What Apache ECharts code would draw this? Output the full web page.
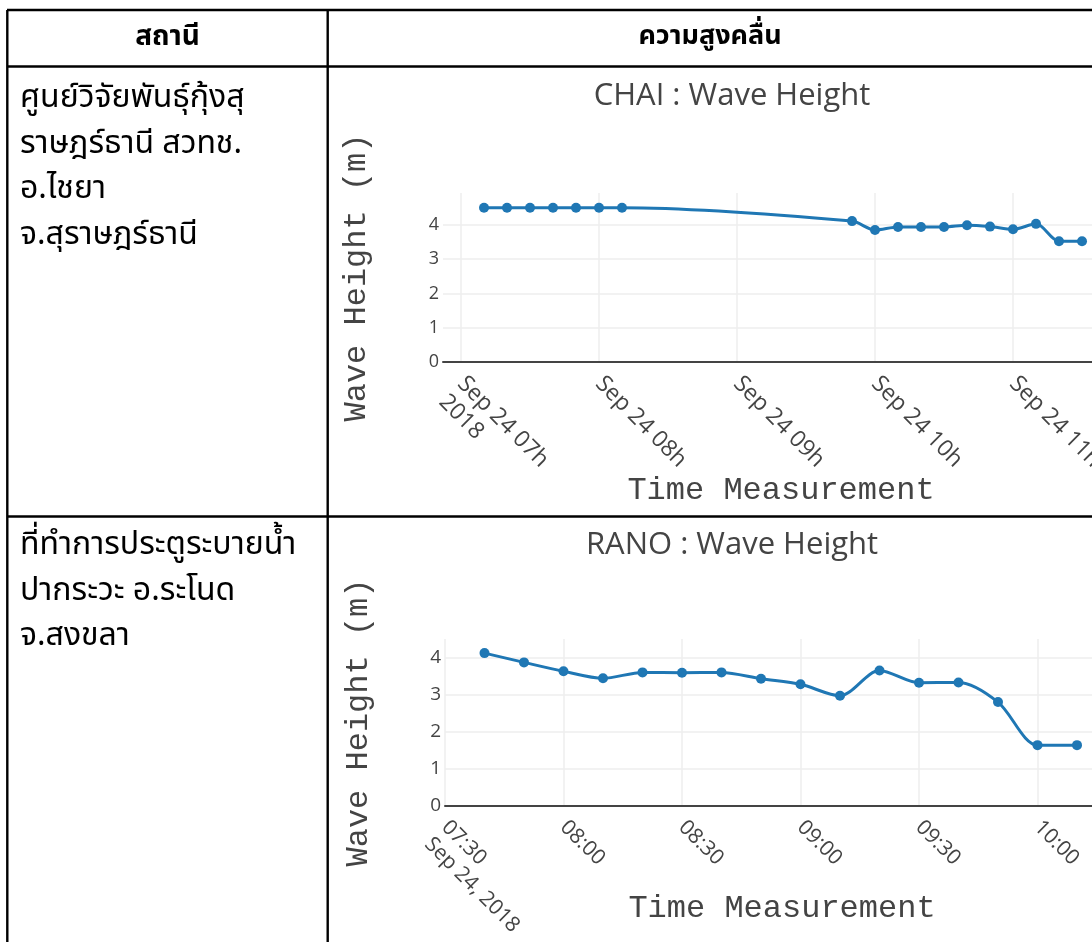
<!DOCTYPE html>
<html><head><meta charset="utf-8">
<script src="https://cdn.jsdelivr.net/npm/echarts@6/dist/echarts.min.js"></script>
<style>html,body{margin:0;padding:0;background:#fff}#c{width:1092px;height:942px}</style>
</head><body><div id="c"></div>
<script>
// ---------- data ----------
const headers = ['สถานี', 'ความสูงคลื่น'];
const station1Lines = ['ศูนย์วิจัยพันธุ์กุ้งสุ', 'ราษฎร์ธานี สวทช.', 'อ.ไชยา', 'จ.สุราษฎร์ธานี'];
const station2Lines = ['ที่ทำการประตูระบายน้ำ', 'ปากระวะ อ.ระโนด', 'จ.สงขลา'];
const chaiTitle = 'CHAI : Wave Height';
const ranoTitle = 'RANO : Wave Height';
const yAxisTitle = 'Wave Height (m)';
const xAxisTitle = 'Time Measurement';

const chaiTimes = ['07:10','07:20','07:30','07:40','07:50','08:00','08:10',
  '09:50','10:00','10:10','10:20','10:30','10:40','10:50','11:00','11:10','11:20','11:30'];
const chaiHeights = [4.50,4.50,4.50,4.50,4.50,4.50,4.50,
  4.11,3.85,3.94,3.94,3.94,3.99,3.95,3.87,4.03,3.52,3.52];
const chaiTickTimes = ['07:00','08:00','09:00','10:00','11:00'];
const chaiTickLabels = ['Sep 24 07h\n2018','Sep 24 08h','Sep 24 09h','Sep 24 10h','Sep 24 11h'];

const ranoTimes = ['07:40','07:50','08:00','08:10','08:20','08:30','08:40','08:50',
  '09:00','09:10','09:20','09:30','09:40','09:50','10:00','10:10'];
const ranoHeights = [4.12,3.87,3.63,3.44,3.60,3.59,3.60,3.43,
  3.28,2.97,3.65,3.32,3.33,2.80,1.64,1.64];
const ranoTickTimes = ['07:30','08:00','08:30','09:00','09:30','10:00'];
const ranoTickLabels = ['07:30\nSep 24, 2018','08:00','08:30','09:00','09:30','10:00'];

const yTicks = [0,1,2,3,4];
// ---------- helpers ----------
const DAY = '2018-09-24T';
const ts = t => Date.parse(DAY + (t.length === 5 ? t + ':00' : t) + 'Z');

const chart = echarts.init(document.getElementById('c'));
const THAI = "'Noto Sans Thai','Noto Sans Thai UI','Loma','Garuda','Noto Sans',sans-serif";
const LINE = '#1f77b4';

function xAxisCfg(idx, extent, ticks, labels, nameGap, fs, lh) {
  const tv = ticks.map(ts);
  return {
    type: 'value', gridIndex: idx, min: ts(extent[0]), max: ts(extent[1]),
    name: xAxisTitle, nameLocation: 'middle', nameGap: nameGap, nameMoveOverlap: false,
    nameTextStyle: {fontFamily: 'Liberation Mono', fontSize: 32, color: '#444'},
    axisLine: {show: true, onZero: true, lineStyle: {color: '#444', width: 2}},
    axisTick: {show: false, customValues: tv},
    axisLabel: {
      customValues: tv, rotate: -45, margin: 18, hideOverlap: false,
      showMinLabel: true, showMaxLabel: true,
      fontFamily: 'Open Sans', fontSize: fs, lineHeight: lh, color: '#444',
      formatter: v => {
        const i = tv.indexOf(v);
        if (i < 0) return '';
        // keep the first text line centred on the tick (extra lines hang below)
        return labels[i].indexOf('\n') >= 0 ? '\u00a0\n' + labels[i] : labels[i];
      }
    },
    splitLine: {show: true, lineStyle: {color: '#eee', width: 1.5}}
  };
}
function yAxisCfg(idx, max, fs) {
  return {
    type: 'value', gridIndex: idx, min: 0, max: max,
    name: yAxisTitle, nameLocation: 'middle', nameGap: 70, nameMoveOverlap: false,
    nameTextStyle: {fontFamily: 'Liberation Mono', fontSize: 32, color: '#444'},
    axisLine: {show: false}, axisTick: {show: false, customValues: yTicks},
    axisLabel: {customValues: yTicks, margin: 4, showMinLabel: true, showMaxLabel: true,
      fontFamily: 'Open Sans', fontSize: fs, color: '#444'},
    splitLine: {show: true, lineStyle: {color: '#eee', width: 1.5}}
  };
}
function seriesCfg(idx, times, vals) {
  return {
    type: 'line', xAxisIndex: idx, yAxisIndex: idx,
    data: times.map((t, i) => [ts(t), vals[i]]),
    smooth: 0.3, symbol: 'circle', symbolSize: 10, showSymbol: true,
    lineStyle: {color: LINE, width: 3}, itemStyle: {color: LINE},
    emphasis: {disabled: true}, animation: false
  };
}

const graphics = [];
const L = (x1, y1, x2, y2) => graphics.push({type: 'line', shape: {x1, y1, x2, y2},
  style: {stroke: '#000', lineWidth: 2.4}, silent: true});
L(7, 10, 1092, 10); L(7, 66.5, 1092, 66.5); L(7, 516.5, 1092, 516.5);
L(7.3, 10, 7.3, 942); L(327.7, 10, 327.7, 942);
const T = (text, x, y, opts) => graphics.push({type: 'text', silent: true,
  style: Object.assign({text, x, y, fill: '#000', font: '32px ' + THAI,
    textAlign: 'left', textVerticalAlign: 'middle'}, opts || {})});
T(headers[0], 167.5, 39, {font: 'bold 28px ' + THAI, textAlign: 'center'});
T(headers[1], 710, 39, {font: 'bold 27px ' + THAI, textAlign: 'center'});
station1Lines.forEach((s, i) => T(s, 20, 101 + i * 45.5));
station2Lines.forEach((s, i) => T(s, 20, 548 + i * 45.5));

chart.setOption({
  animation: false,
  backgroundColor: '#fff',
  title: [
    {text: chaiTitle, left: 732, top: 81, textAlign: 'center', padding: 0,
      textStyle: {fontFamily: 'Open Sans', fontSize: 31, fontWeight: 'normal', color: '#444'}},
    {text: ranoTitle, left: 732, top: 530, textAlign: 'center', padding: 0,
      textStyle: {fontFamily: 'Open Sans', fontSize: 31, fontWeight: 'normal', color: '#444'}}
  ],
  grid: [
    {left: 443, top: 193, width: 676, height: 169, outerBoundsMode: 'none', containLabel: false},
    {left: 445, top: 639, width: 674, height: 167, outerBoundsMode: 'none', containLabel: false}
  ],
  xAxis: [
    xAxisCfg(0, ['06:52:10', '11:46:05'], chaiTickTimes, chaiTickLabels, 113, 23, 26),
    xAxisCfg(1, ['07:30:00', '10:20:38'], ranoTickTimes, ranoTickLabels, 87, 21, 24)
  ],
  yAxis: [yAxisCfg(0, 4.93, 18), yAxisCfg(1, 4.5, 19)],
  series: [seriesCfg(0, chaiTimes, chaiHeights), seriesCfg(1, ranoTimes, ranoHeights)],
  graphic: graphics
});
</script></body></html>
